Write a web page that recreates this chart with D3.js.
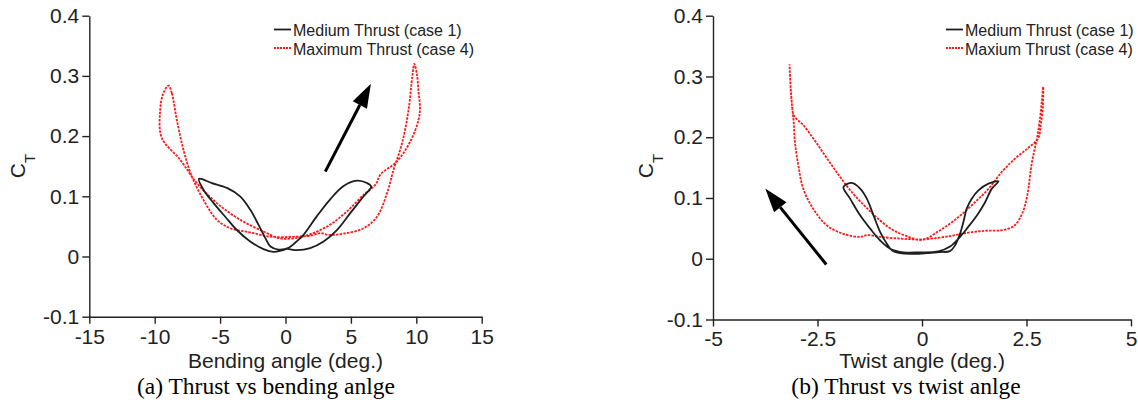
<!DOCTYPE html>
<html>
<head>
<meta charset="utf-8">
<script src="https://cdn.jsdelivr.net/npm/d3@7"></script>
<style>
  body { margin: 0; background: #fff; }
  svg { display: block; }
  .axis path, .axis line { stroke: #222; stroke-width: 1.4px; }
  .axis text { font-family: "Liberation Sans", Arial, sans-serif; font-size: 21px; fill: #222; }
  .title { font-family: "Liberation Sans", Arial, sans-serif; font-size: 21px; fill: #222; }
  .legend { font-family: "Liberation Sans", Arial, sans-serif; font-size: 16px; fill: #222; }
  .caption { font-family: "Liberation Serif", "Times New Roman", serif; font-size: 23.5px; fill: #000; }
</style>
</head>
<body>
<div id="chart"></div>
<script>
// tick values
let bendTicks = [-15, -10, -5, 0, 5, 10, 15];
let twistTicks = [-5, -2.5, 0, 2.5, 5];
let ctTicks = [-0.1, 0, 0.1, 0.2, 0.3, 0.4];

// (a) thrust vs bending angle
let bendCase1 = [[-6.62,0.129],[-5.63,0.122],[-4.48,0.114],[-3.47,0.1],[-2.7,0.078],[-2.07,0.053],[-1.55,0.031],
  [-1.17,0.017],[-0.54,0.0115],[0.25,0.0145],[0.8,0.024],[1.38,0.036],[2.4,0.067],[3.42,0.095],[4.44,0.117],
  [5.46,0.126],[6.23,0.122],[6.55,0.116],[5.97,0.1],[4.95,0.072],[3.93,0.044],[2.91,0.025],[1.89,0.014],
  [0.87,0.0105],[0.11,0.0125],[-0.3,0.01],[-0.92,0.0078],[-1.68,0.0123],[-2.7,0.025],[-3.72,0.044],
  [-4.61,0.066],[-5.51,0.089],[-6.27,0.111]];
let bendCase4 = [[-8.95,0.284],[-8.69,0.271],[-8.31,0.227],[-7.8,0.177],[-7.16,0.133],[-6.27,0.094],[-5.25,0.061],
  [-4.23,0.047],[-2.7,0.04],[-1.17,0.033],[0.87,0.033],[2.0,0.035],[2.66,0.039],[3.3,0.036],[4.44,0.038],
  [5.97,0.047],[6.99,0.066],[7.76,0.105],[8.26,0.144],[8.91,0.188],[9.41,0.244],[9.7,0.3],[9.85,0.32],
  [10.05,0.302],[10.17,0.274],[10.28,0.247],[10.17,0.227],[9.54,0.191],[8.52,0.158],[7.25,0.136],
  [6.9,0.12],[5.97,0.1025],[4.7,0.075],[3.42,0.053],[2.14,0.039],[0.87,0.031],[-0.41,0.03],[-1.68,0.0415],
  [-3.47,0.061],[-5.25,0.0887],[-6.78,0.122],[-8.06,0.161],[-9.46,0.197],[-9.59,0.241],[-9.36,0.27]];
let bendArrow = [[3.04,0.141],[6.53,0.287]];

// (b) thrust vs twist angle
let twistCase1 = [[-1.88,0.118],[-1.72,0.099],[-1.48,0.0714],[-1.24,0.0495],[-1.0,0.03],[-0.76,0.0165],
  [-0.44,0.0105],[-0.05,0.0105],[0.39,0.012],[0.67,0.02],[0.91,0.036],[1.1,0.052],[1.33,0.073],[1.51,0.093],
  [1.67,0.1154],[1.83,0.1275],[1.59,0.1237],[1.35,0.1126],[1.19,0.0989],[1.07,0.0824],[0.99,0.0603],
  [0.91,0.0412],[0.79,0.0219],[0.67,0.0125],[0.43,0.011],[0.11,0.0092],[-0.21,0.0082],[-0.52,0.0092],
  [-0.72,0.014],[-0.84,0.0247],[-1.0,0.0439],[-1.16,0.0714],[-1.32,0.0989],[-1.48,0.1154],[-1.68,0.1247]];
let twistCase4 = [[-3.17,0.32],[-3.14,0.28],[-3.11,0.253],[-3.07,0.225],[-3.04,0.192],[-2.96,0.154],[-2.84,0.115],
  [-2.6,0.082],[-2.28,0.055],[-1.88,0.041],[-1.48,0.036],[-1.3,0.039],[-1.0,0.036],[-0.5,0.033],[0.0,0.032],
  [0.55,0.036],[1.11,0.043],[1.51,0.046],[1.91,0.047],[2.2,0.054],[2.4,0.075],[2.52,0.105],[2.63,0.159],
  [2.75,0.198],[2.83,0.235],[2.87,0.262],[2.9,0.283],[2.89,0.25],[2.84,0.22],[2.78,0.198],[2.55,0.183],
  [2.23,0.165],[1.91,0.143],[1.59,0.115],[1.19,0.088],[0.79,0.064],[0.39,0.045],[0.0,0.031],[-0.4,0.038],
  [-0.76,0.05],[-1.24,0.078],[-1.72,0.113],[-2.12,0.15],[-2.52,0.19],[-2.84,0.22],[-3.06,0.235],
  [-3.12,0.26],[-3.15,0.29]];
let twistArrow = [[-2.29,-0.0094],[-3.75,0.1154]];

let seriesNames = ["Medium Thrust (case 1)", "Maximum Thrust (case 4)"];
let seriesNamesB = ["Medium Thrust (case 1)", "Maxium Thrust (case 4)"];

let svg = d3.select("#chart").append("svg")
  .attr("width", 1138)
  .attr("height", 400);

function drawPanel(p) {
  let x = d3.scaleLinear().domain(d3.extent(p.xTicks)).range(p.xRange);
  let y = d3.scaleLinear().domain([-0.1, 0.4]).range(p.yRange);
  let g = svg.append("g");

  // axes
  g.append("g")
    .attr("class", "axis")
    .attr("transform", "translate(0," + p.yRange[0] + ")")
    .call(d3.axisBottom(x).tickValues(p.xTicks).tickSize(7).tickSizeOuter(0).tickPadding(5)
      .tickFormat(d => String(d)));
  g.append("g")
    .attr("class", "axis")
    .attr("transform", "translate(" + p.xRange[0] + ",0)")
    .call(d3.axisLeft(y).tickValues(ctTicks).tickSize(7).tickSizeOuter(0).tickPadding(3)
      .tickFormat(d => String(d)));

  // curves
  let line = d3.line()
    .x(d => x(d[0]))
    .y(d => y(d[1]))
    .curve(d3.curveCatmullRomClosed.alpha(0.5));

  g.append("path")
    .attr("d", line(p.case4))
    .attr("fill", "none")
    .attr("stroke", "#ff1a1a")
    .attr("stroke-width", 1.8)
    .attr("stroke-dasharray", "2.5,1.2");

  g.append("path")
    .attr("d", line(p.case1))
    .attr("fill", "none")
    .attr("stroke", "#1e1e1e")
    .attr("stroke-width", 1.8);

  // arrow
  let t0 = [x(p.arrow[0][0]), y(p.arrow[0][1])];
  let t1 = [x(p.arrow[1][0]), y(p.arrow[1][1])];
  let ang = Math.atan2(t1[1] - t0[1], t1[0] - t0[0]);
  let headLen = 24, headW = 8;
  let base = [t1[0] - headLen * Math.cos(ang), t1[1] - headLen * Math.sin(ang)];
  g.append("line")
    .attr("x1", t0[0]).attr("y1", t0[1])
    .attr("x2", base[0]).attr("y2", base[1])
    .attr("stroke", "#000")
    .attr("stroke-width", 3);
  g.append("polygon")
    .attr("points", [
      t1,
      [base[0] + headW * Math.sin(ang), base[1] - headW * Math.cos(ang)],
      [base[0] - headW * Math.sin(ang), base[1] + headW * Math.cos(ang)]
    ].map(q => q.join(",")).join(" "))
    .attr("fill", "#000");

  // axis titles
  g.append("text")
    .attr("class", "title")
    .attr("text-anchor", "middle")
    .attr("x", x(0))
    .attr("y", 368)
    .text(p.xTitle);

  let ct = g.append("text")
    .attr("class", "title")
    .attr("text-anchor", "middle")
    .attr("transform", "translate(" + p.ctX + ",166) rotate(-90)");
  ct.append("tspan").text("C");
  ct.append("tspan").attr("dy", 10).style("font-size", "15px").text("T");

  // caption
  g.append("text")
    .attr("class", "caption")
    .attr("text-anchor", "middle")
    .attr("x", p.capX)
    .attr("y", 394)
    .text(p.caption);

  // legend
  let leg = g.append("g").attr("transform", "translate(" + p.legX + ",0)");
  leg.append("line")
    .attr("x1", 0).attr("x2", 17).attr("y1", 29.5).attr("y2", 29.5)
    .attr("stroke", "#1e1e1e").attr("stroke-width", 1.8);
  leg.append("line")
    .attr("x1", 0).attr("x2", 17).attr("y1", 48).attr("y2", 48)
    .attr("stroke", "#ff1a1a").attr("stroke-width", 1.8).attr("stroke-dasharray", "2,1");
  leg.selectAll("text.legend")
    .data(p.names)
    .enter()
    .append("text")
    .attr("class", "legend")
    .attr("x", 19)
    .attr("y", (d, i) => 35.5 + i * 19)
    .text(d => d);
}

drawPanel({
  xTicks: bendTicks, xRange: [89.3, 481.7], yRange: [316.7, 15.7],
  case1: bendCase1, case4: bendCase4, arrow: bendArrow,
  xTitle: "Bending angle (deg.)", caption: "(a) Thrust vs bending anlge",
  ctX: 25, capX: 266, legX: 274, names: seriesNames
});

drawPanel({
  xTicks: twistTicks, xRange: [713, 1131], yRange: [319.5, 15.7],
  case1: twistCase1, case4: twistCase4, arrow: twistArrow,
  xTitle: "Twist angle (deg.)", caption: "(b) Thrust vs twist anlge",
  ctX: 653, capX: 906, legX: 946, names: seriesNamesB
});
</script>
</body>
</html>
